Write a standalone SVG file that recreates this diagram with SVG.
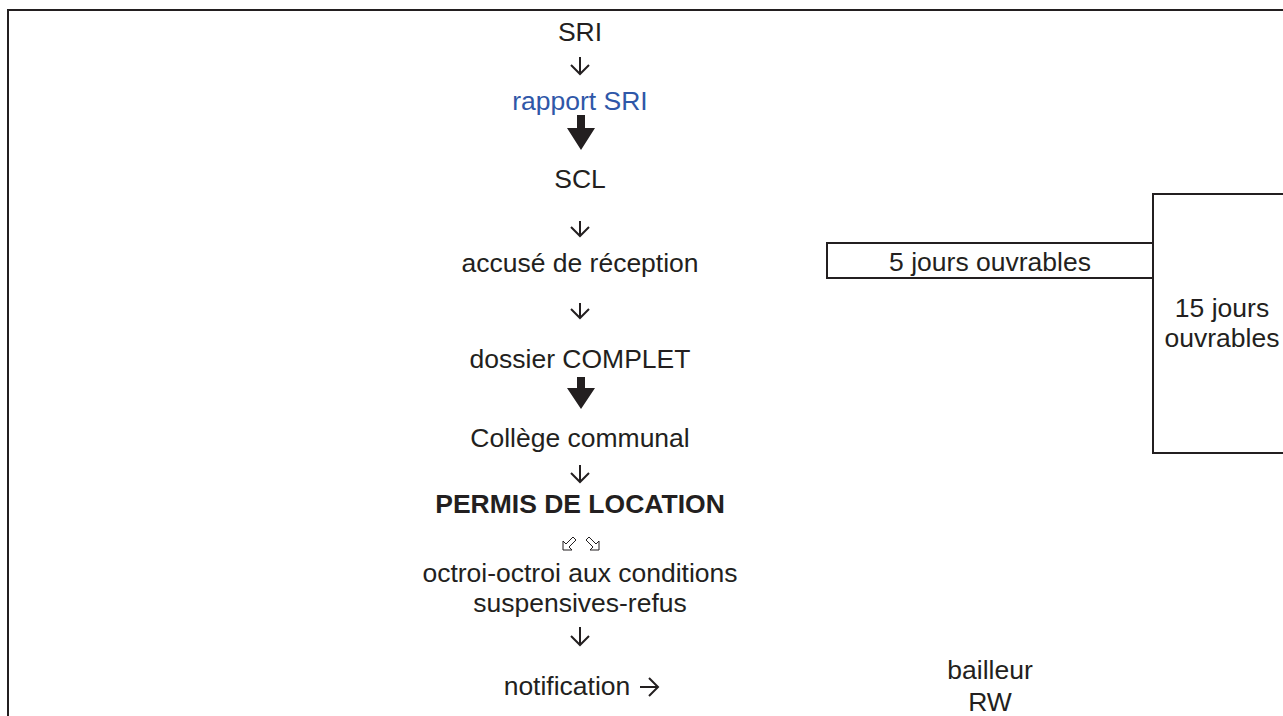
<svg xmlns="http://www.w3.org/2000/svg" width="1283" height="716" viewBox="0 0 1283 716">
<style>
text{font-family:"Liberation Sans",Arial,sans-serif;font-size:26.5px;fill:#231f20;text-anchor:middle}
.blue{fill:#2f57a8}
.b{font-weight:bold}
.frame{fill:none;stroke:#231f20;stroke-width:2}
.thin{fill:none;stroke:#231f20;stroke-width:2}
.thick{fill:#231f20;stroke:none}
.hollow{fill:#fff;stroke:#231f20;stroke-width:1}
</style>
<rect width="1283" height="716" fill="#fff"/>
<g id="frame">
<path class="frame" d="M8,716 V10 H1283"/>
</g>
<g id="n-sri"><text x="580" y="41">SRI</text></g>
<g id="n-rapport"><text class="blue" x="580" y="110">rapport SRI</text></g>
<g id="n-scl"><text x="580" y="188">SCL</text></g>
<g id="n-accuse"><text x="580" y="272">accusé de réception</text></g>
<g id="n-dossier"><text x="580" y="368">dossier COMPLET</text></g>
<g id="n-college"><text x="580" y="447">Collège communal</text></g>
<g id="n-permis"><text class="b" x="580" y="513">PERMIS DE LOCATION</text></g>
<g id="n-octroi"><text x="580" y="582">octroi-octroi aux conditions</text><text x="580" y="612">suspensives-refus</text></g>
<g id="n-notification"><text x="567" y="695">notification</text></g>
<g id="n-bailleur"><text x="990" y="679">bailleur</text><text x="990" y="711">RW</text></g>
<g id="n-5jours"><rect class="frame" x="827" y="243" width="326" height="35"/><text x="990" y="271">5 jours ouvrables</text></g>
<g id="n-15jours"><rect class="frame" x="1153" y="194" width="140" height="259"/><text x="1222" y="317">15 jours</text><text x="1222" y="347">ouvrables</text></g>
<g id="connectors">
<path class="thin" d="M580,57 V74 M571,65 L580,74 L589,65"/>
<polygon class="thick" points="577,115 585,115 585,128 595,128 581,150 567,128 577,128"/>
<path class="thin" d="M580,221 V236 M571,227 L580,236 L589,227"/>
<path class="thin" d="M580,303 V318 M571,309 L580,318 L589,309"/>
<polygon class="thick" points="577,377 585,377 585,388 595,388 581,409 567,388 577,388"/>
<path class="thin" d="M580,465 V482 M571,473 L580,482 L589,473"/>
<polygon class="hollow" points="563,550 563,541 566,544 573,537 576,540 569,547 572,550"/>
<polygon class="hollow" points="599,550 599,541 596,544 589,537 586,540 593,547 590,550"/>
<path class="thin" d="M580,627 V645 M571,636 L580,645 L589,636"/>
<path class="thin" d="M640,687 H658 M649,678 L658,687 L649,696"/>
</g>
</svg>
